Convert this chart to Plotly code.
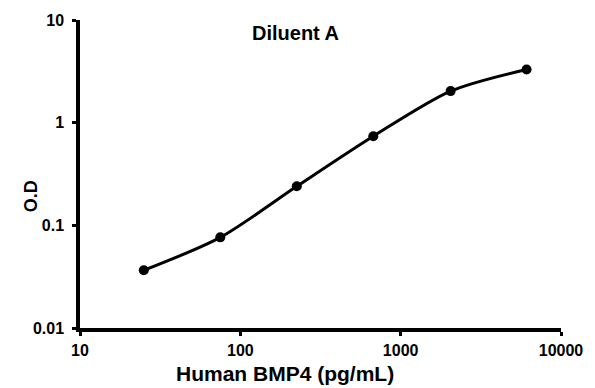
import plotly.graph_objects as go

concentration = [25, 75, 225, 675, 2050, 6100]
od = [0.0365, 0.0764, 0.24, 0.738, 2.03, 3.30]

x_ticks = [10, 100, 1000, 10000]
x_tick_labels = ["10", "100", "1000", "10000"]
y_ticks = [0.01, 0.1, 1, 10]
y_tick_labels = ["0.01", "0.1", "1", "10"]

title_text = "Diluent A"
x_title = "Human BMP4 (pg/mL)"
y_title = "O.D"

FONT = "Liberation Sans, Arial, sans-serif"

fig = go.Figure()
fig.add_trace(go.Scatter(
    x=concentration, y=od, mode="lines+markers",
    line=dict(color="black", width=3, shape="spline", smoothing=0.8),
    marker=dict(color="black", size=10),
    showlegend=False,
))

axis_common = dict(
    type="log", showgrid=False, zeroline=False, showline=True,
    linecolor="black", linewidth=3.5, ticks="outside", ticklen=4,
    tickwidth=3, tickcolor="black",
    tickfont=dict(family=FONT, size=16, color="black", weight="bold"),
)

fig.update_xaxes(range=[1, 4], tickvals=x_ticks, ticktext=x_tick_labels,
                 ticklabelstandoff=1, **axis_common)
fig.update_yaxes(range=[-2, 1], tickvals=y_ticks, ticktext=y_tick_labels,
                 ticklabelstandoff=5, **axis_common)

W, H = 595, 388
L, R, T, B = 80, 32, 15, 60

def px_to_paper(px, py):
    return (px - L) / (W - L - R), 1 - (py - T) / (H - T - B)

ax, ay = px_to_paper(296, 28)
fig.add_annotation(text=f"<b>{title_text}</b>", x=ax, y=ay, xref="paper", yref="paper",
                   showarrow=False, font=dict(family=FONT, size=20, color="black"),
                   xanchor="center", yanchor="middle")
ax, ay = px_to_paper(286, 374)
fig.add_annotation(text=f"<b>{x_title}</b>", x=ax, y=ay, xref="paper", yref="paper",
                   showarrow=False, font=dict(family=FONT, size=21, color="black"),
                   xanchor="center", yanchor="middle")
ax, ay = px_to_paper(31, 194)
fig.add_annotation(text=f"<b>{y_title}</b>", x=ax, y=ay, xref="paper", yref="paper",
                   showarrow=False, font=dict(family=FONT, size=18, color="black"),
                   textangle=-90, xanchor="center", yanchor="middle")

fig.update_layout(
    width=W, height=H,
    margin=dict(l=L, r=R, t=T, b=B),
    paper_bgcolor="white", plot_bgcolor="white",
)

fig.write_html("out.html", config={"displayModeBar": False},
               post_script="document.body.style.margin='0';document.body.style.overflow='hidden';")
